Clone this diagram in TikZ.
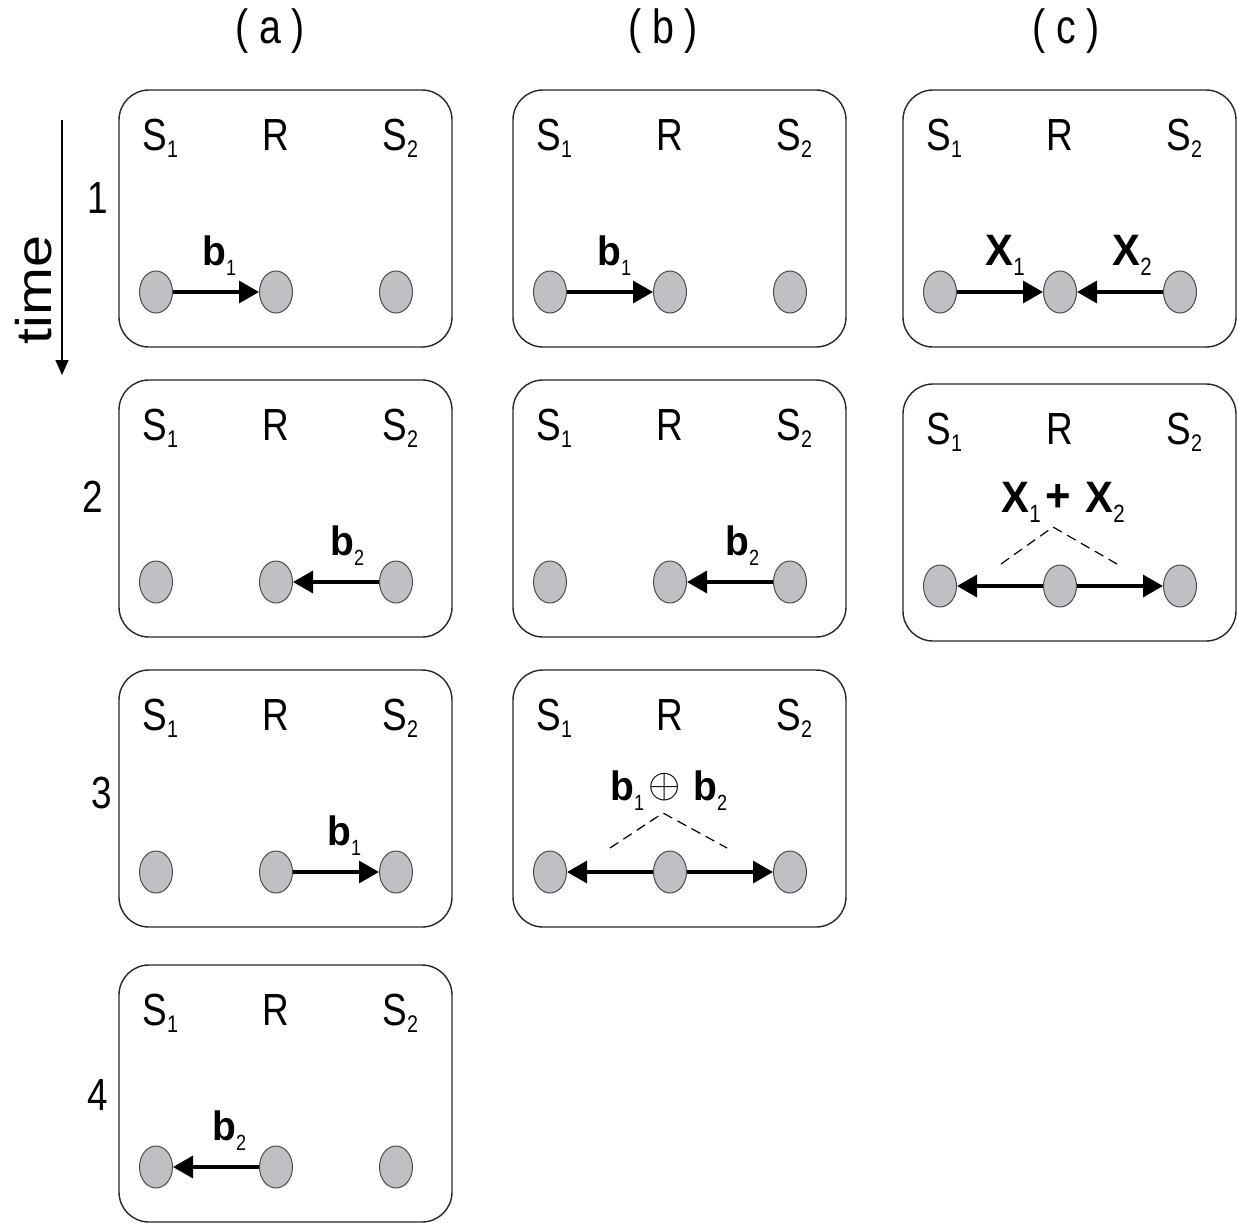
\documentclass[tikz,border=0pt]{standalone}
\usepackage{fontspec}
\setmainfont{Liberation Sans}[FakeStretch=0.82]
\newfontfamily\bff{Liberation Sans}[FakeStretch=0.95]
\newfontfamily\plainf{Liberation Sans}
\usetikzlibrary{arrows.meta,shapes.geometric}
\definecolor{nodegray}{RGB}{190,192,196}
\newcommand{\ssub}[1]{\raisebox{-3.5pt}{\fontsize{12}{12}\selectfont\mdseries #1}}
\newcommand{\bsub}[1]{\raisebox{-5pt}{\fontsize{11}{11}\selectfont\normalfont #1}}
\newcommand{\xsub}[1]{\raisebox{-5pt}{\fontsize{12.5}{12.5}\selectfont\normalfont #1}}
\tikzset{
  panelbox/.style={draw=black!85, line width=0.7pt, rounded corners=15pt},
  dot/.style={ellipse, draw=black!70, line width=0.5pt, fill=nodegray,
    minimum width=16.5pt, minimum height=21pt, inner sep=0pt},
  lab/.style={inner sep=0pt, anchor=base west, font=\fontsize{22.5}{24}\selectfont},
  blab/.style={inner sep=0pt, anchor=base west, font=\fontsize{20.5}{22}\selectfont\bff\bfseries},
  xlab/.style={inner sep=0pt, anchor=base west, font=\fontsize{22}{24}\selectfont\bff\bfseries},
  numlab/.style={inner sep=0pt, font=\fontsize{22.5}{24}\selectfont},
  headlab/.style={inner sep=0pt, font=\fontsize{24}{26}\selectfont},
  arr/.style={line width=1.7pt, -{Triangle[length=10pt,width=11pt]}},
  tarr/.style={line width=0.7pt, -{Triangle[length=7.5pt,width=6.5pt]}},
  dsh/.style={dashed, dash pattern=on 5pt off 3pt, line width=0.6pt}
}
\newcommand{\panel}[4]{%
  \begin{scope}[shift={(#2,#3)}]
    \draw[panelbox] (0,0) rectangle (333,257);
    \node[lab] (#1t1) at (23,60) {S\ssub{1}};
    \node[lab] (#1tr) at (143,60) {R};
    \node[lab] (#1t2) at (263,60) {S\ssub{2}};
    \node[dot] (#1s1) at (37,202) {};
    \node[dot] (#1r) at (157,202) {};
    \node[dot] (#1s2) at (277,202) {};
    #4
  \end{scope}}
\begin{document}
\begin{tikzpicture}[x=0.5pt,y=-0.5pt]
\useasboundingbox (0,0) rectangle (1238,1222);
% headers
\node[headlab] (ha) at (270,31) {( a )};
\node[headlab] (hb) at (663,31) {( b )};
\node[headlab] (hc) at (1066,31) {( c )};
% row numbers
\node[numlab] (n1) at (98,198) {1};
\node[numlab] (n2) at (93,497) {2};
\node[numlab] (n3) at (102,793) {3};
\node[numlab] (n4) at (98,1095) {4};
% time axis
\coordinate (ttop) at (62,120);
\coordinate (tbot) at (62,375);
\draw[tarr] (ttop) -- (tbot);
\node[inner sep=0pt, rotate=90, font=\fontsize{25}{26}\selectfont\plainf] (tlab) at (34,290) {\scalebox{1.15}[1]{time}};
% column (a)
\panel{a1}{119}{90}{%
  \draw[arr] (a1s1) -- (a1r);
  \node[blab] (a1l) at (83,175) {b\bsub{1}};}
\panel{a2}{119}{380}{%
  \draw[arr] (a2s2) -- (a2r);
  \node[blab] (a2l) at (211,175) {b\bsub{2}};}
\panel{a3}{119}{670}{%
  \draw[arr] (a3r) -- (a3s2);
  \node[blab] (a3l) at (208,175) {b\bsub{1}};}
\panel{a4}{119}{965}{%
  \draw[arr] (a4r) -- (a4s1);
  \node[blab] (a4l) at (93,175) {b\bsub{2}};}
% column (b)
\panel{b1}{513}{90}{%
  \draw[arr] (b1s1) -- (b1r);
  \node[blab] (b1l) at (84,175) {b\bsub{1}};}
\panel{b2}{513}{380}{%
  \draw[arr] (b2s2) -- (b2r);
  \node[blab] (b2l) at (212,175) {b\bsub{2}};}
\panel{b3}{513}{670}{%
  \draw[arr] (b3r) -- (b3s1);
  \draw[arr] (b3r) -- (b3s2);
  \node[blab] (b3la) at (97,130) {b\bsub{1}};
  \node[inner sep=0pt, font=\fontsize{20}{20}\selectfont] (b3op) at (152,117) {$\oplus$};
  \node[blab] (b3lb) at (180,130) {b\bsub{2}};
  \coordinate (b3apex) at (150,143);
  \coordinate (b3dl) at (97,178);
  \coordinate (b3dr) at (214,178);
  \draw[dsh] (b3dl) -- (b3apex) -- (b3dr);}
% column (c)
\panel{c1}{903}{90}{%
  \draw[arr] (c1s1) -- (c1r);
  \draw[arr] (c1s2) -- (c1r);
  \node[xlab] (c1la) at (82,175) {X\xsub{1}};
  \node[xlab] (c1lb) at (209,175) {X\xsub{2}};}
\panel{c2}{903}{384}{%
  \draw[arr] (c2r) -- (c2s1);
  \draw[arr] (c2r) -- (c2s2);
  \node[xlab] (c2la) at (98,128) {X\xsub{1}};
  \node[inner sep=0pt, font=\fontsize{23}{24}\selectfont\bff\bfseries] (c2plus) at (155,114) {+};
  \node[xlab] (c2lb) at (182,128) {X\xsub{2}};
  \coordinate (c2apex) at (150,143);
  \coordinate (c2dl) at (98,180);
  \coordinate (c2dr) at (214,180);
  \draw[dsh] (c2dl) -- (c2apex) -- (c2dr);}
\end{tikzpicture}
\end{document}
